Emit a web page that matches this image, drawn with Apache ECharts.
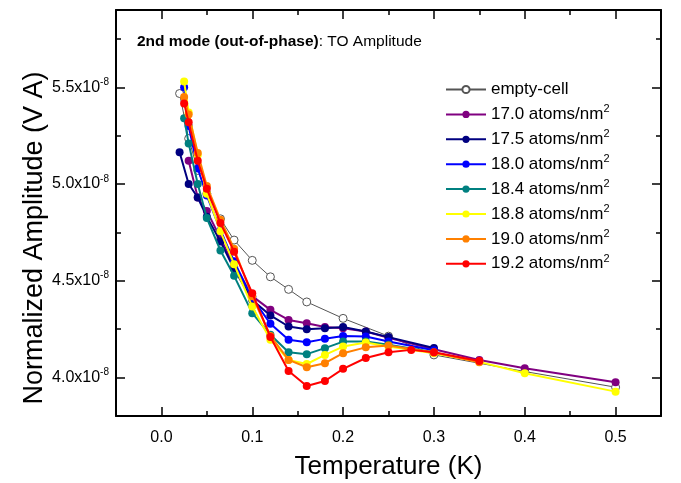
<!DOCTYPE html>
<html>
<head>
<meta charset="utf-8">
<script src="https://cdn.jsdelivr.net/npm/echarts@6/dist/echarts.min.js"></script>
<style>html,body{margin:0;padding:0;background:#fff}#c{width:681px;height:483px}</style>
</head>
<body>
<div id="c"></div>
<script>
// Values in units of 1e-8 V A
const xTicks = [0.0, 0.1, 0.2, 0.3, 0.4, 0.5];
const xMinor = [0.05, 0.15, 0.25, 0.35, 0.45];
const yTicks = [4.0, 4.5, 5.0, 5.5];
const yMinor = [4.25, 4.75, 5.25, 5.75];

const seriesNames = ['empty-cell', '17.0 atoms/nm2', '17.5 atoms/nm2', '18.0 atoms/nm2',
  '18.4 atoms/nm2', '18.8 atoms/nm2', '19.0 atoms/nm2', '19.2 atoms/nm2'];

const tEmpty = [0.02, 0.03, 0.04, 0.05, 0.065, 0.08, 0.1, 0.12, 0.14, 0.16, 0.2, 0.25, 0.3, 0.4, 0.5];
const vEmpty = [5.468, 5.235, 5.07, 4.95, 4.82, 4.71, 4.605, 4.52, 4.455, 4.39, 4.305, 4.213, 4.116, 4.03, 3.949];

const tPurple = [0.03, 0.04, 0.05, 0.065, 0.08, 0.1, 0.12, 0.14, 0.16, 0.18, 0.2, 0.225, 0.25, 0.3, 0.35, 0.4, 0.5];
const vPurple = [5.12, 4.93, 4.86, 4.72, 4.575, 4.42, 4.349, 4.297, 4.28, 4.26, 4.254, 4.237, 4.205, 4.145, 4.09, 4.047, 3.975];

const tNavy = [0.02, 0.03, 0.04, 0.05, 0.065, 0.08, 0.1, 0.12, 0.14, 0.16, 0.18, 0.2, 0.225, 0.25, 0.3];
const vNavy = [5.164, 5.0, 4.93, 4.83, 4.703, 4.56, 4.40, 4.32, 4.263, 4.249, 4.254, 4.26, 4.237, 4.208, 4.152];

const tBlue = [0.025, 0.03, 0.04, 0.05, 0.065, 0.08, 0.1, 0.12, 0.14, 0.16, 0.18, 0.2, 0.225, 0.25, 0.3];
const vBlue = [5.5, 5.3, 5.08, 4.94, 4.76, 4.6, 4.41, 4.277, 4.194, 4.182, 4.199, 4.214, 4.211, 4.185, 4.14];

const tTeal = [0.025, 0.03, 0.04, 0.05, 0.065, 0.08, 0.1, 0.12, 0.14, 0.16, 0.18, 0.2, 0.225, 0.25, 0.3];
const vTeal = [5.34, 5.21, 5.0, 4.824, 4.656, 4.525, 4.332, 4.22, 4.13, 4.12, 4.151, 4.185, 4.185, 4.168, 4.13];

const tYellow = [0.025, 0.03, 0.04, 0.05, 0.065, 0.08, 0.1, 0.12, 0.14, 0.16, 0.18, 0.2, 0.225, 0.25, 0.3, 0.35, 0.4, 0.5];
const vYellow = [5.53, 5.37, 5.15, 4.95, 4.755, 4.585, 4.366, 4.194, 4.09, 4.069, 4.116, 4.159, 4.18, 4.16, 4.125, 4.08, 4.021, 3.926];

const tOrange = [0.025, 0.03, 0.04, 0.05, 0.065, 0.08, 0.1, 0.12, 0.14, 0.16, 0.18, 0.2, 0.225, 0.25, 0.3, 0.35];
const vOrange = [5.45, 5.36, 5.16, 4.99, 4.815, 4.665, 4.42, 4.214, 4.09, 4.052, 4.073, 4.125, 4.155, 4.165, 4.128, 4.078];

const tRed = [0.025, 0.03, 0.04, 0.05, 0.065, 0.08, 0.1, 0.12, 0.14, 0.16, 0.18, 0.2, 0.225, 0.25, 0.275, 0.3, 0.35];
const vRed = [5.417, 5.32, 5.12, 4.975, 4.798, 4.65, 4.435, 4.209, 4.033, 3.955, 3.981, 4.044, 4.10, 4.13, 4.142, 4.13, 4.085];

const colors = ['#555555', '#800080', '#000080', '#0000ff', '#008080', '#ffff00', '#ff8000', '#ff0000'];
const tArr = [tEmpty, tPurple, tNavy, tBlue, tTeal, tYellow, tOrange, tRed];
const vArr = [vEmpty, vPurple, vNavy, vBlue, vTeal, vYellow, vOrange, vRed];

const FONT = 'Liberation Sans, Arial, sans-serif';
const chart = echarts.init(document.getElementById('c'), null, {renderer: 'canvas'});

const series = seriesNames.map((name, k) => {
  const data = tArr[k].map((t, i) => [t, vArr[k][i]]);
  const empty = k === 0;
  return {
    name: name,
    type: 'line',
    xAxisIndex: 0,
    yAxisIndex: 0,
    data: data,
    symbol: 'circle',
    symbolSize: 8,
    showSymbol: true,
    lineStyle: {color: colors[k], width: empty ? 1 : 2},
    itemStyle: empty ? {color: '#ffffff', borderColor: '#555555', borderWidth: 1} : {color: colors[k], borderWidth: 0},
    emphasis: {disabled: true},
    z: 2 + k
  };
});

const axisLineStyle = {show: true, onZero: false, lineStyle: {color: '#000', width: 2}};
const hiddenLine = {show: true, onZero: false, lineStyle: {color: 'rgba(0,0,0,0)', width: 0}};
const tickStyle = {color: '#000', width: 1.5};

const option = {
  animation: false,
  backgroundColor: '#fff',
  textStyle: {fontFamily: FONT},
  title: {
    left: 137, top: 34, padding: 0,
    text: '{b|2nd mode (out-of-phase)}{n|: TO Amplitude}',
    textStyle: {
      fontWeight: 'normal',
      rich: {
        b: {fontFamily: FONT, fontSize: 15.5, fontWeight: 'bold', color: '#000'},
        n: {fontFamily: FONT, fontSize: 15.5, fontWeight: 'normal', color: '#000'}
      }
    }
  },
  grid: {left: 116, right: 20, top: 10, bottom: 67, containLabel: false, outerBoundsMode: 'none'},
  legend: {
    orient: 'vertical',
    left: 445, top: 81, padding: 0,
    itemWidth: 40, itemHeight: 9, itemGap: 5.9,
    data: seriesNames,
    formatter: function (name) {
      if (name.endsWith('nm2')) return '{t|' + name.slice(0, -1) + '}{s|2}';
      return '{t|' + name + '}';
    },
    textStyle: {
      rich: {
        t: {fontFamily: FONT, fontSize: 17, color: '#000', lineHeight: 21},
        s: {fontFamily: FONT, fontSize: 11, color: '#000', verticalAlign: 'top', lineHeight: 11}
      }
    }
  },
  xAxis: [
    {
      type: 'value', min: -0.05, max: 0.55, position: 'bottom',
      axisLine: axisLineStyle,
      axisTick: {show: true, inside: true, length: 9, customValues: xTicks, lineStyle: tickStyle},
      axisLabel: {customValues: xTicks, formatter: v => v.toFixed(1), fontFamily: FONT, fontSize: 16, color: '#000', margin: 14},
      splitLine: {show: false},
      name: 'Temperature (K)', nameLocation: 'middle', nameGap: 38, nameMoveOverlap: false,
      nameTextStyle: {fontFamily: FONT, fontSize: 26, color: '#000'}
    },
    {
      type: 'value', min: -0.05, max: 0.55, position: 'top',
      axisLine: axisLineStyle,
      axisTick: {show: true, inside: true, length: 9, customValues: xTicks, lineStyle: tickStyle},
      axisLabel: {show: false}, splitLine: {show: false}
    },
    {
      type: 'value', min: -0.05, max: 0.55, position: 'bottom', offset: 0,
      axisLine: hiddenLine,
      axisTick: {show: true, inside: true, length: 5, customValues: xMinor, lineStyle: tickStyle},
      axisLabel: {show: false}, splitLine: {show: false}
    },
    {
      type: 'value', min: -0.05, max: 0.55, position: 'top', offset: 0,
      axisLine: hiddenLine,
      axisTick: {show: true, inside: true, length: 5, customValues: xMinor, lineStyle: tickStyle},
      axisLabel: {show: false}, splitLine: {show: false}
    }
  ],
  yAxis: [
    {
      type: 'value', min: 3.8, max: 5.9, position: 'left',
      axisLine: axisLineStyle,
      axisTick: {show: true, inside: true, length: 9, customValues: yTicks, lineStyle: tickStyle},
      axisLabel: {
        customValues: yTicks, margin: 7,
        formatter: v => '{n|' + v.toFixed(1) + 'x10}{s|-8}',
        rich: {
          n: {fontFamily: FONT, fontSize: 16, color: '#000', lineHeight: 20},
          s: {fontFamily: FONT, fontSize: 10, color: '#000', verticalAlign: 'top', lineHeight: 10}
        }
      },
      splitLine: {show: false},
      name: 'Normalized Amplitude (V A)', nameLocation: 'middle', nameGap: 68, nameMoveOverlap: false,
      nameTextStyle: {fontFamily: FONT, fontSize: 27, color: '#000', padding: [0, 50, 0, 0]}
    },
    {
      type: 'value', min: 3.8, max: 5.9, position: 'right',
      axisLine: axisLineStyle,
      axisTick: {show: true, inside: true, length: 9, customValues: yTicks, lineStyle: tickStyle},
      axisLabel: {show: false}, splitLine: {show: false}
    },
    {
      type: 'value', min: 3.8, max: 5.9, position: 'left', offset: 0,
      axisLine: hiddenLine,
      axisTick: {show: true, inside: true, length: 5, customValues: yMinor, lineStyle: tickStyle},
      axisLabel: {show: false}, splitLine: {show: false}
    },
    {
      type: 'value', min: 3.8, max: 5.9, position: 'right', offset: 0,
      axisLine: hiddenLine,
      axisTick: {show: true, inside: true, length: 5, customValues: yMinor, lineStyle: tickStyle},
      axisLabel: {show: false}, splitLine: {show: false}
    }
  ],
  series: series
};
chart.setOption(option);
</script>
</body>
</html>
